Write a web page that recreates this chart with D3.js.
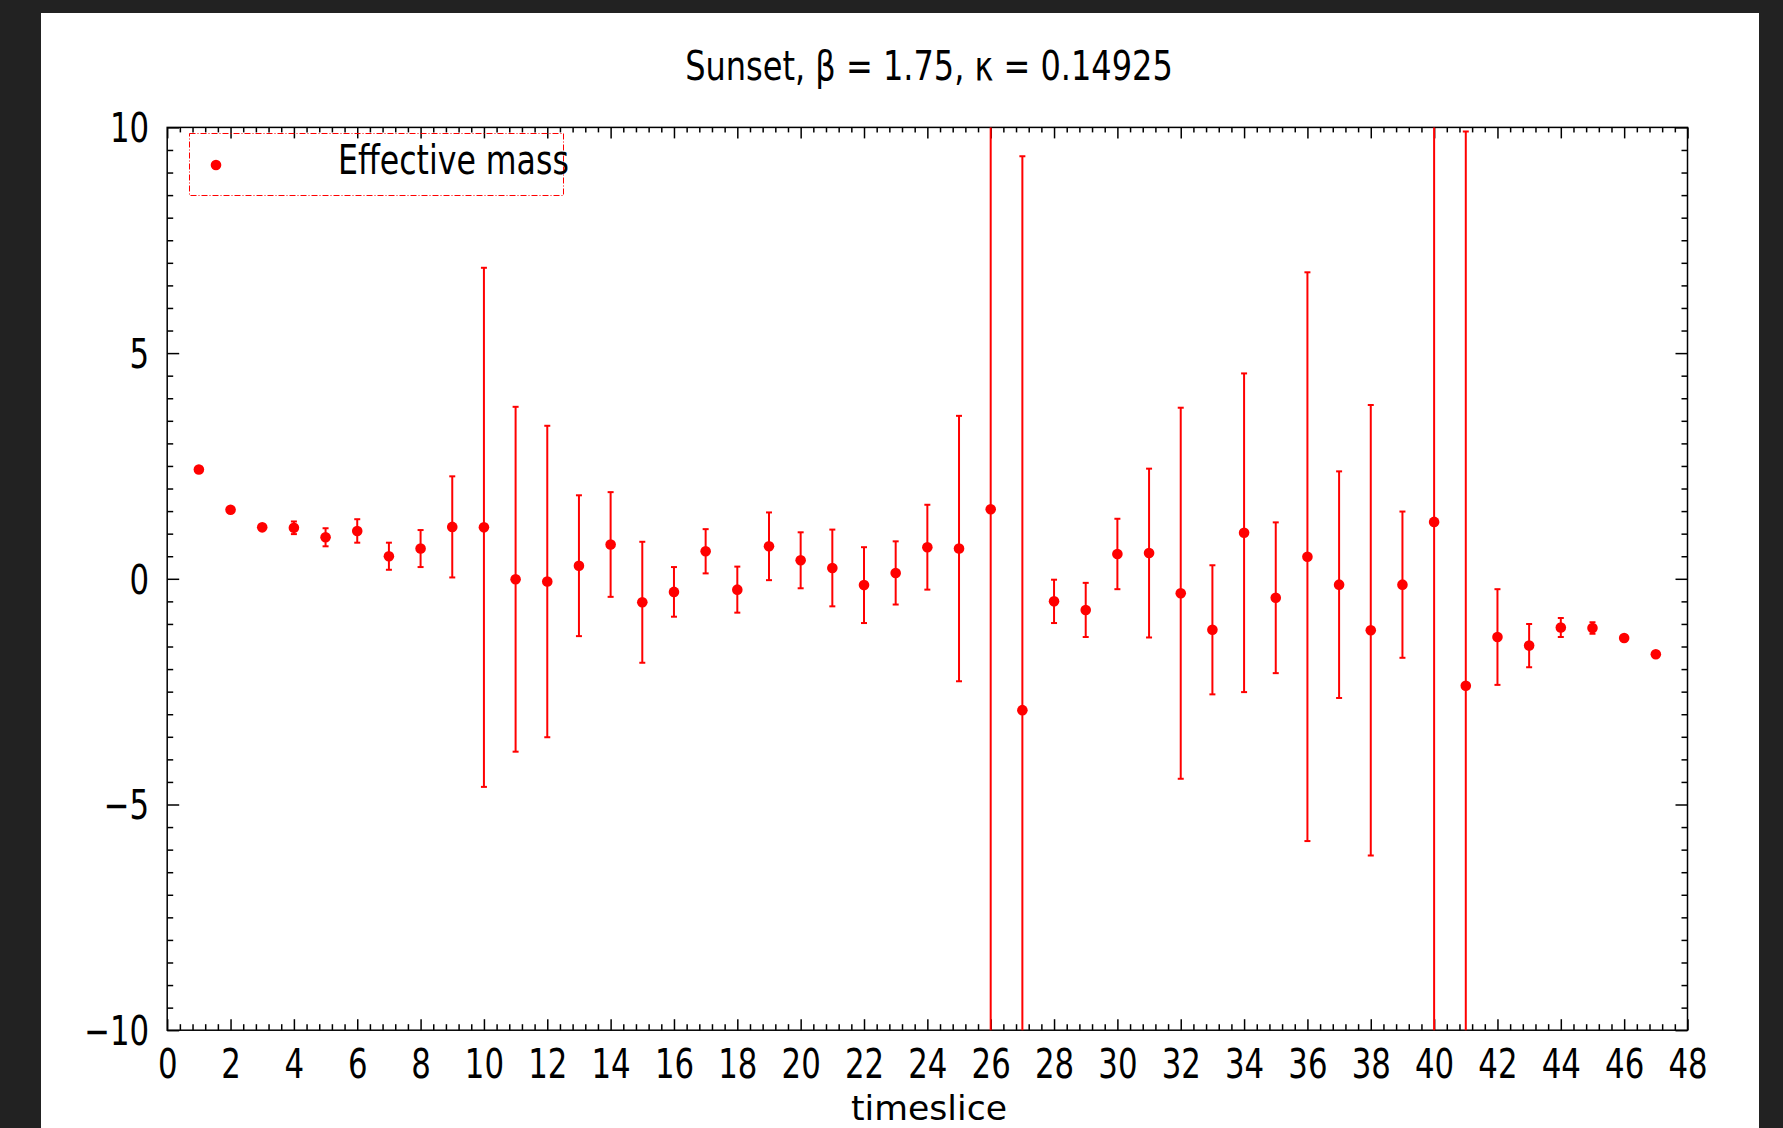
<!DOCTYPE html>
<html>
<head>
<meta charset="utf-8">
<script src="https://cdn.jsdelivr.net/npm/d3@7"></script>
<style>
  html, body { margin: 0; padding: 0; background: #222222; }
  svg { display: block; }
  text { font-family: "DejaVu Sans", sans-serif; fill: #000; }
</style>
</head>
<body>
<svg id="chart" width="1783" height="1128"></svg>
<script>
// ---- data ----
const titleText = "Sunset, \u03b2 = 1.75, \u03ba = 0.14925";
const xLabel = "timeslice";
const legendLabel = "Effective mass";
const timeslices = [1,2,3,4,5,6,7,8,9,10,11,12,13,14,15,16,17,18,19,20,21,22,23,24,25,26,27,28,29,30,31,32,33,34,35,36,37,38,39,40,41,42,43,44,45,46,47];
const effMass = [2.42,1.53,1.14,1.13,0.92,1.06,0.50,0.67,1.15,1.14,-0.01,-0.06,0.29,0.76,-0.52,-0.29,0.61,-0.24,0.72,0.41,0.24,-0.14,0.13,0.70,0.67,1.54,-2.91,-0.50,-0.69,0.55,0.57,-0.32,-1.13,1.02,-0.42,0.49,-0.13,-1.14,-0.13,1.26,-2.37,-1.29,-1.48,-1.08,-1.09,-1.31,-1.67];
const effErr = [0.03,0.03,0.06,0.14,0.20,0.26,0.30,0.41,1.12,5.75,3.82,3.45,1.56,1.16,1.34,0.55,0.49,0.51,0.75,0.62,0.85,0.84,0.70,0.94,2.94,15,12.27,0.48,0.60,0.78,1.87,4.11,1.43,3.53,1.67,6.30,2.51,4.99,1.62,15,12.28,1.06,0.48,0.21,0.13,0.02,0.02];
const xMajorTicks = [0,2,4,6,8,10,12,14,16,18,20,22,24,26,28,30,32,34,36,38,40,42,44,46,48];
const yMajorTicks = [-10,-5,0,5,10];

// ---- layout ----
const svg = d3.select("#chart");
const L = 167.2, R = 1687.5, T = 127.4, B = 1030.2;
const sx = 0.77; // horizontal squeeze of glyphs

svg.append("rect").attr("x", 41).attr("y", 13).attr("width", 1759 - 41).attr("height", 1128 - 13).attr("fill", "#ffffff");

const x = d3.scaleLinear().domain([0, 48]).range([L, R]);
const y = d3.scaleLinear().domain([-10, 10]).range([B, T]);

const xMinor = d3.range(0, 48.001, 0.4).filter(v => Math.abs(v / 2 - Math.round(v / 2)) > 1e-6);
const yMinor = d3.range(-10, 10.001, 0.5).filter(v => Math.abs(v / 5 - Math.round(v / 5)) > 1e-6);

function styleAxis(g) {
  g.select(".domain").remove();
  g.selectAll(".tick line").attr("stroke", "#000").attr("stroke-width", 1.5);
}

// bottom
const gB = svg.append("g").attr("transform", `translate(0,${B})`);
gB.call(d3.axisBottom(x).tickValues(xMajorTicks).tickSizeInner(-11).tickSizeOuter(0).tickPadding(19).tickFormat(d3.format("d")));
styleAxis(gB);
gB.selectAll(".tick text").attr("font-size", 40).attr("dy", "0.71em").attr("transform", `scale(${sx},1)`);
svg.append("g").attr("transform", `translate(0,${B})`)
  .call(d3.axisBottom(x).tickValues(xMinor).tickSizeInner(-6).tickSizeOuter(0).tickFormat(""))
  .call(styleAxis);

// top
svg.append("g").attr("transform", `translate(0,${T})`)
  .call(d3.axisTop(x).tickValues(xMajorTicks).tickSizeInner(-11).tickSizeOuter(0).tickFormat(""))
  .call(styleAxis);
svg.append("g").attr("transform", `translate(0,${T})`)
  .call(d3.axisTop(x).tickValues(xMinor).tickSizeInner(-5).tickSizeOuter(0).tickFormat(""))
  .call(styleAxis);

// left
const gL = svg.append("g").attr("transform", `translate(${L},0)`);
gL.call(d3.axisLeft(y).tickValues(yMajorTicks).tickSizeInner(-12).tickSizeOuter(0).tickPadding(18));
styleAxis(gL);
gL.selectAll(".tick text").attr("font-size", 40).attr("x", 0).attr("dy", "0.36em")
  .attr("transform", `translate(-18,0) scale(${sx},1)`);
svg.append("g").attr("transform", `translate(${L},0)`)
  .call(d3.axisLeft(y).tickValues(yMinor).tickSizeInner(-6).tickSizeOuter(0).tickFormat(""))
  .call(styleAxis);

// right
svg.append("g").attr("transform", `translate(${R},0)`)
  .call(d3.axisRight(y).tickValues(yMajorTicks).tickSizeInner(-12).tickSizeOuter(0).tickFormat(""))
  .call(styleAxis);
svg.append("g").attr("transform", `translate(${R},0)`)
  .call(d3.axisRight(y).tickValues(yMinor).tickSizeInner(-6).tickSizeOuter(0).tickFormat(""))
  .call(styleAxis);

// frame
svg.append("rect").attr("x", L).attr("y", T).attr("width", R - L).attr("height", B - T)
  .attr("fill", "none").attr("stroke", "#000").attr("stroke-width", 1.5);

// clip
svg.append("clipPath").attr("id", "plotclip").append("rect")
  .attr("x", L).attr("y", T).attr("width", R - L).attr("height", B - T);

const pts = timeslices.map((t, i) => ({ t, m: effMass[i], e: effErr[i] }));
const gData = svg.append("g").attr("clip-path", "url(#plotclip)");
const red = "#ff0000";
const capW = 3;

gData.selectAll("line.eb").data(pts).join("line").attr("class", "eb")
  .attr("x1", d => x(d.t)).attr("x2", d => x(d.t))
  .attr("y1", d => y(d.m + d.e)).attr("y2", d => y(d.m - d.e))
  .attr("stroke", red).attr("stroke-width", 2);
gData.selectAll("line.capt").data(pts).join("line").attr("class", "capt")
  .attr("x1", d => x(d.t) - capW).attr("x2", d => x(d.t) + capW)
  .attr("y1", d => y(d.m + d.e)).attr("y2", d => y(d.m + d.e))
  .attr("stroke", red).attr("stroke-width", 2);
gData.selectAll("line.capb").data(pts).join("line").attr("class", "capb")
  .attr("x1", d => x(d.t) - capW).attr("x2", d => x(d.t) + capW)
  .attr("y1", d => y(d.m - d.e)).attr("y2", d => y(d.m - d.e))
  .attr("stroke", red).attr("stroke-width", 2);
gData.selectAll("circle.pt").data(pts).join("circle").attr("class", "pt")
  .attr("cx", d => x(d.t)).attr("cy", d => y(d.m)).attr("r", 5.3).attr("fill", red);

// legend
svg.append("rect").attr("x", 189.5).attr("y", 133.5).attr("width", 374).attr("height", 62)
  .attr("fill", "none").attr("stroke", red).attr("stroke-width", 1).attr("stroke-dasharray", "6,2,1,2");
svg.append("circle").attr("cx", 216).attr("cy", 165).attr("r", 5.3).attr("fill", red);
svg.append("text").attr("transform", `translate(338,174) scale(0.79,1)`)
  .attr("font-size", 40).text(legendLabel);

// title
svg.append("text").attr("transform", `translate(929,80) scale(0.8,1)`)
  .attr("text-anchor", "middle").attr("font-size", 40).text(titleText);

// x label
svg.append("text").attr("transform", `translate(929,1119.5) scale(1.02,1)`)
  .attr("text-anchor", "middle").attr("font-size", 34).text(xLabel);
</script>
</body>
</html>
